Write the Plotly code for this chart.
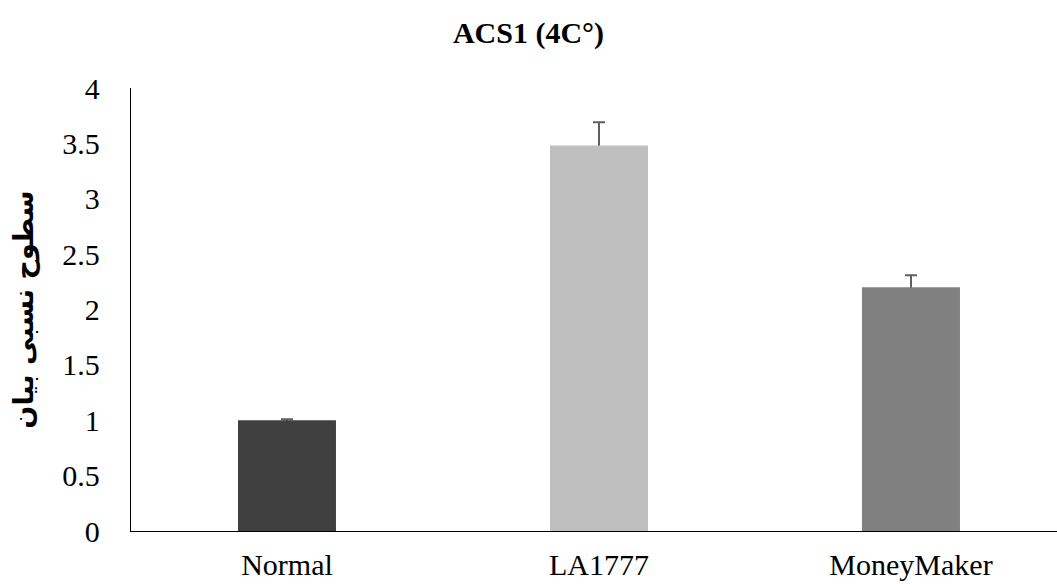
import plotly.graph_objects as go

categories = ["Normal", "LA1777", "MoneyMaker"]
values = [1.0, 3.48, 2.2]
errors_plus = [0.01, 0.21, 0.11]
errors_minus = [0.1, 0.1, 0.1]  # lower half hidden behind the bars (plus-only error bars)
colors = ["#404040", "#bfbfbf", "#808080"]
y_ticks = [0, 0.5, 1, 1.5, 2, 2.5, 3, 3.5, 4]
y_tick_text = ["0", "0.5", "1", "1.5", "2", "2.5", "3", "3.5", "4"]

fig = go.Figure()
# error-bar carrier (drawn first, so the visible bars cover the lower half)
fig.add_trace(go.Bar(
    x=categories, y=values,
    marker=dict(color="rgba(0,0,0,0)", line=dict(width=0)),
    width=0.314, hoverinfo="skip",
    error_y=dict(type="data", symmetric=False, array=errors_plus, arrayminus=errors_minus,
                 visible=True, color="#5f5f5f", thickness=2, width=6),
))
fig.add_trace(go.Bar(
    x=categories, y=values,
    marker=dict(color=colors, line=dict(width=0)),
    width=0.314,
))

fig.update_layout(
    width=1057, height=584,
    margin=dict(l=131, r=0, t=88, b=53),
    paper_bgcolor="white", plot_bgcolor="white",
    showlegend=False, barmode="overlay",
    title=dict(text="<b>ACS1 (4C°)</b>", x=0.5, xanchor="center", y=0.945, yanchor="middle",
               font=dict(family="Liberation Serif", size=30, color="black")),
    font=dict(family="Liberation Serif", color="black"),
)
fig.update_xaxes(
    range=[-0.5, 2.468], showline=True, linecolor="black", linewidth=1.3,
    showgrid=False, ticks="", tickfont=dict(size=30, family="Liberation Serif", color="black"),
    ticklabelstandoff=7,
)
fig.update_yaxes(
    range=[0, 4], tickvals=y_ticks, ticktext=y_tick_text,
    showline=True, linecolor="black", linewidth=1.3, showgrid=False, ticks="",
    zeroline=False,
    tickfont=dict(size=30, family="Liberation Serif", color="black"),
    ticklabelstandoff=24,
    title=dict(text="<b>سطوح نسبی بیان</b>", font=dict(family="DejaVu Sans", size=27, color="black"), standoff=20),
)

fig.write_html("out.html")
